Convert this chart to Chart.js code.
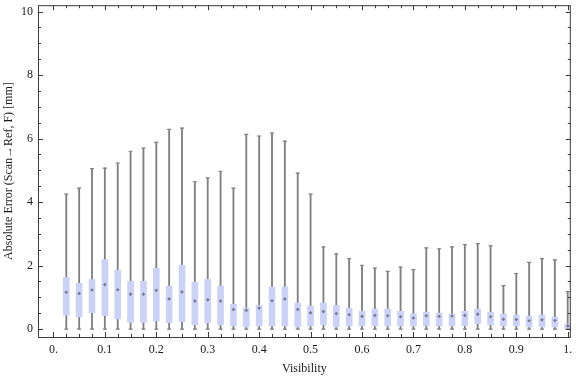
<!DOCTYPE html>
<html>
<head>
<meta charset="utf-8">
<script src="https://cdn.jsdelivr.net/npm/chart.js@4/dist/chart.umd.min.js"></script>
<style>
  html, body { margin: 0; padding: 0; background: #ffffff; }
  #wrap { width: 576px; height: 377px; }
</style>
</head>
<body>
<div id="wrap"><canvas id="boxChart"></canvas></div>
<script>
// box positions (visibility)
const visibility = [
  0.025, 0.05, 0.075, 0.1, 0.125, 0.15, 0.175, 0.2, 0.225, 0.25,
  0.275, 0.3, 0.325, 0.35, 0.375, 0.4, 0.425, 0.45, 0.475, 0.5,
  0.525, 0.55, 0.575, 0.6, 0.625, 0.65, 0.675, 0.7, 0.725, 0.75,
  0.775, 0.8, 0.825, 0.85, 0.875, 0.9, 0.925, 0.95, 0.975, 1.0,
];
const whiskerMin = [
  0, 0, 0, 0, 0, 0, 0, 0, 0, 0,
  0, 0, 0, 0, 0, 0, 0, 0, 0, 0,
  0, 0, 0, 0, 0, 0, 0, 0, 0, 0,
  0, 0, 0, 0, 0, 0, 0, 0, 0, 0,
];
const quartile1 = [
  0.44, 0.38, 0.52, 0.42, 0.32, 0.21, 0.21, 0.26, 0.2, 0.23,
  0.14, 0.2, 0.14, 0.1, 0.07, 0.1, 0.1, 0.1, 0.07, 0.1,
  0.14, 0.07, 0.1, 0.1, 0.1, 0.1, 0.1, 0.1, 0.1, 0.1,
  0.1, 0.11, 0.17, 0.14, 0.1, 0.1, 0.07, 0.07, 0.07, 0.01,
];
const median = [
  1.16, 1.12, 1.23, 1.4, 1.24, 1.1, 1.1, 1.22, 0.95, 1.17,
  0.88, 0.92, 0.88, 0.62, 0.59, 0.66, 0.89, 0.95, 0.62, 0.51,
  0.55, 0.49, 0.45, 0.4, 0.43, 0.42, 0.39, 0.35, 0.42, 0.4,
  0.41, 0.43, 0.47, 0.39, 0.31, 0.3, 0.26, 0.29, 0.27, 0.1,
];
const quartile3 = [
  1.63, 1.44, 1.56, 2.19, 1.85, 1.5, 1.5, 1.91, 1.35, 2.01,
  1.47, 1.57, 1.35, 0.78, 0.66, 0.75, 1.32, 1.32, 0.82, 0.72,
  0.82, 0.75, 0.66, 0.56, 0.63, 0.63, 0.56, 0.48, 0.53, 0.5,
  0.47, 0.56, 0.63, 0.53, 0.47, 0.44, 0.41, 0.44, 0.38, 0.16,
];
const whiskerMax = [
  4.25, 4.44, 5.05, 5.07, 5.23, 5.6, 5.7, 5.88, 6.29, 6.33,
  4.64, 4.76, 4.97, 4.44, 6.13, 6.08, 6.17, 5.92, 4.91, 4.25,
  2.59, 2.37, 2.22, 2.01, 1.92, 1.82, 1.95, 1.87, 2.56, 2.53,
  2.59, 2.66, 2.69, 2.62, 1.37, 1.75, 2.1, 2.22, 2.18, 1.18,
];

// axis ticks
const xTickValues = [0].concat(visibility);
const xLabelValues = [0, 0.1, 0.2, 0.3, 0.4, 0.5, 0.6, 0.7, 0.8, 0.9, 1.0];
const xLabels = ["0.", "0.1", "0.2", "0.3", "0.4", "0.5", "0.6", "0.7", "0.8", "0.9", "1."];
const yTickValues = [0, 0.5, 1, 1.5, 2, 2.5, 3, 3.5, 4, 4.5, 5, 5.5, 6, 6.5, 7, 7.5, 8, 8.5, 9, 9.5, 10];
const yLabelValues = [0, 2, 4, 6, 8, 10];

const frameColor = "#3a3a3a";
const whiskerColor = "#808080";
const boxColor = "#cbd2f5";
const serif = "'Liberation Serif', 'DejaVu Serif', serif";

function labelFor(values, labels, v) {
  const i = values.findIndex((t) => Math.abs(t - v) < 1e-6);
  return i >= 0 ? labels[i] : "";
}

// keep label overhang from shifting the plot area
function noPadding(s) {
  s.paddingLeft = 0;
  s.paddingRight = 0;
  s.paddingTop = 0;
  s.paddingBottom = 0;
}

// Mathematica-style frame with inward ticks
const framePlugin = {
  id: "frame",
  afterDatasetsDraw(chart) {
    const { ctx, chartArea: a, scales } = chart;
    ctx.save();
    ctx.strokeStyle = frameColor;
    ctx.lineWidth = 1;
    ctx.strokeRect(a.left + 0.5, a.top + 0.5, a.right - a.left - 1, a.bottom - a.top);
    ctx.beginPath();
    scales.x.ticks.forEach((t) => {
      const px = Math.round(scales.x.getPixelForValue(t.value)) + 0.5;
      const len = labelFor(xLabelValues, xLabels, t.value) ? 5 : 3;
      ctx.moveTo(px, a.bottom);
      ctx.lineTo(px, a.bottom - len);
      ctx.moveTo(px, a.top);
      ctx.lineTo(px, a.top + len);
    });
    scales.y.ticks.forEach((t) => {
      const py = Math.round(scales.y.getPixelForValue(t.value)) + 0.5;
      const len = yLabelValues.includes(t.value) ? 5 : 3;
      ctx.moveTo(a.left, py);
      ctx.lineTo(a.left + len, py);
      ctx.moveTo(a.right, py);
      ctx.lineTo(a.right - len, py);
    });
    ctx.stroke();
    ctx.restore();
  },
};

const ctx = document.getElementById("boxChart").getContext("2d");

new Chart(ctx, {
  type: "bar",
  data: {
    datasets: [
      {
        // whisker line
        data: visibility.map((x, i) => ({ x: x, y: [whiskerMin[i], whiskerMax[i]] })),
        backgroundColor: whiskerColor,
        barThickness: 1.2,
        grouped: false,
        order: 3,
      },
      {
        // interquartile box
        data: visibility.map((x, i) => ({ x: x, y: [quartile1[i], quartile3[i]] })),
        backgroundColor: boxColor,
        barThickness: 6,
        grouped: false,
        order: 2,
      },
      {
        // whisker caps
        type: "scatter",
        data: visibility
          .map((x, i) => ({ x: x, y: whiskerMin[i] }))
          .concat(visibility.map((x, i) => ({ x: x, y: whiskerMax[i] }))),
        pointStyle: "line",
        pointRadius: 2,
        borderColor: whiskerColor,
        borderWidth: 1.2,
        order: 1,
      },
      {
        // median marker
        type: "scatter",
        data: visibility.map((x, i) => ({ x: x, y: median[i] })),
        pointStyle: "rectRot",
        pointRadius: 1.8,
        backgroundColor: "rgba(105,105,120,0.85)",
        borderWidth: 0,
        order: 0,
      },
    ],
  },
  options: {
    responsive: true,
    maintainAspectRatio: false,
    animation: false,
    layout: { padding: { top: 4, right: 2, left: 0, bottom: 0 } },
    scales: {
      x: {
        type: "linear",
        offset: false,
        min: -0.03,
        max: 1.006,
        afterBuildTicks: (s) => { s.ticks = xTickValues.map((v) => ({ value: v })); },
        afterFit: (s) => { s.height = 40; noPadding(s); },
        grid: { display: false, drawTicks: false },
        border: { display: false },
        ticks: {
          autoSkip: false,
          maxRotation: 0,
          padding: 6,
          color: "#1a1a1a",
          font: { family: serif, size: 12 },
          callback: (v) => labelFor(xLabelValues, xLabels, v),
        },
        title: {
          display: true,
          text: "Visibility",
          color: "#1a1a1a",
          font: { family: serif, size: 12 },
          padding: { top: 2, bottom: 1 },
        },
      },
      y: {
        min: -0.25,
        max: 10.2,
        afterBuildTicks: (s) => { s.ticks = yTickValues.map((v) => ({ value: v })); },
        afterFit: (s) => { s.width = 38; noPadding(s); },
        grid: { display: false, drawTicks: false },
        border: { display: false },
        ticks: {
          autoSkip: false,
          padding: 5,
          color: "#1a1a1a",
          font: { family: serif, size: 12 },
          callback: (v) => (yLabelValues.includes(v) ? String(v) : ""),
        },
        title: {
          display: true,
          text: "Absolute Error (Scan→Ref, F) [mm]",
          color: "#1a1a1a",
          font: { family: serif, size: 12 },
          padding: { top: 2, bottom: 0 },
        },
      },
    },
    plugins: {
      legend: { display: false },
      tooltip: { enabled: false },
    },
  },
  plugins: [framePlugin],
});
</script>
</body>
</html>
